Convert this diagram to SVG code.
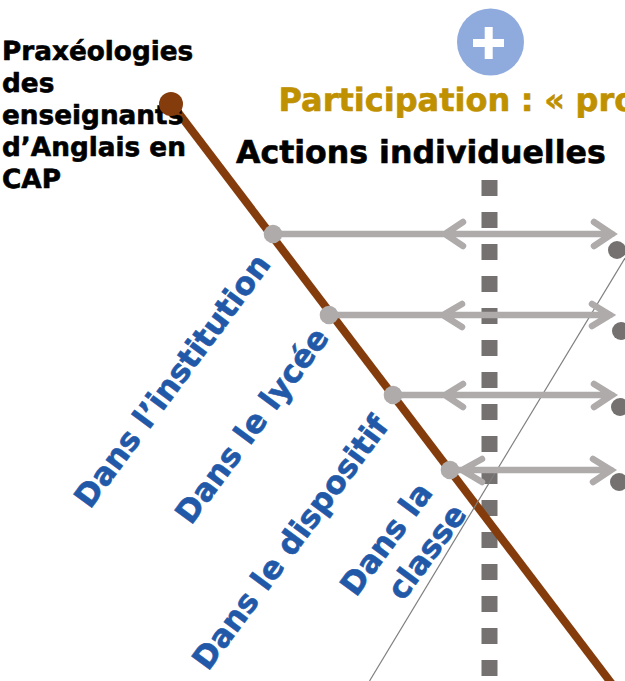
<svg xmlns="http://www.w3.org/2000/svg" width="625" height="681" viewBox="0 0 625 681">
<style>
text{font-family:"DejaVu Sans",Verdana,sans-serif;font-weight:700;stroke-width:.6px;paint-order:stroke;text-rendering:geometricPrecision}
.t{font-size:26.300px;fill:#000;stroke:#000}
.h{font-size:32px}
.b{font-size:31.300px;fill:#2159a8;stroke:#2159a8}
.a{fill:none;stroke:#afabab;stroke-width:6.500;stroke-linecap:round;stroke-linejoin:miter}
.n{fill:#afabab}
.g{fill:#767171}
</style>
<rect width="625" height="681" fill="#fff"/>
<g id="connectors">
<path d="M489.5 180V681" fill="none" stroke="#767171" stroke-width="16" stroke-dasharray="16 16"/>
<path d="M171 103L612 684" fill="none" stroke="#843c0c" stroke-width="8"/>
<path d="M625 258L369.500 681" fill="none" stroke="#7f7f7f" stroke-width="1.200"/>
<path class="a" d="M273 234H612M463 222L445 234L463 246M594 222L612 234L594 246"/>
<path class="a" d="M329 315H610M462 304L443 315L462 327M592 304L610 315L592 326"/>
<path class="a" d="M393 395H612M463 384L445 395L463 407M594 384L612 395L594 407"/>
<path class="a" d="M450 470H611M482 459L462 470L482 482M593 459L611 470L593 482"/>
</g>
<g id="plus"><circle cx="490.500" cy="42" r="33.500" fill="#8faadc"/><path d="M473 43H504M488.700 27V59" stroke="#fff" stroke-width="8" fill="none"/></g>
<g id="title"><text x="278.500" y="111" class="h" fill="#bf9000" stroke="#bf9000" word-spacing="-.5">Participation : « pro</text></g>
<g id="subtitle"><text x="236" y="163" style="font-size:31.600px" fill="#000" stroke="#000">Actions individuelles</text></g>
<g id="praxeologies"><text class="t" x="2" y="60">Praxéologies</text><text class="t" x="2" y="92">des</text><text class="t" x="2" y="124">enseignants</text><text class="t" x="2" y="156">d’Anglais en</text><text class="t" x="2" y="188">CAP</text></g>
<g id="root"><circle cx="171" cy="104" r="12" fill="#843c0c"/></g>
<g id="n1"><circle class="n" cx="273" cy="234" r="9.300"/><text class="b" transform="translate(90 510) rotate(-53.500)">Dans l’institution</text></g>
<g id="n2"><circle class="n" cx="329" cy="315" r="9.300"/><text class="b" transform="translate(191 526) rotate(-53.500)">Dans le lycée</text></g>
<g id="n3"><circle class="n" cx="393" cy="395" r="9.300"/><text class="b" transform="translate(208 672) rotate(-53.500)">Dans le dispositif</text></g>
<g id="n4"><circle class="n" cx="450" cy="470" r="9.300"/><text class="b" transform="translate(356 598) rotate(-53.500)">Dans la</text><text class="b" transform="translate(403 602) rotate(-53.500)">classe</text></g>
<g id="r1"><circle class="g" cx="617" cy="250" r="9"/></g>
<g id="r2"><circle class="g" cx="621" cy="331" r="9"/></g>
<g id="r3"><circle class="g" cx="620" cy="407" r="9"/></g>
<g id="r4"><circle class="g" cx="619" cy="482" r="9"/></g>
</svg>
